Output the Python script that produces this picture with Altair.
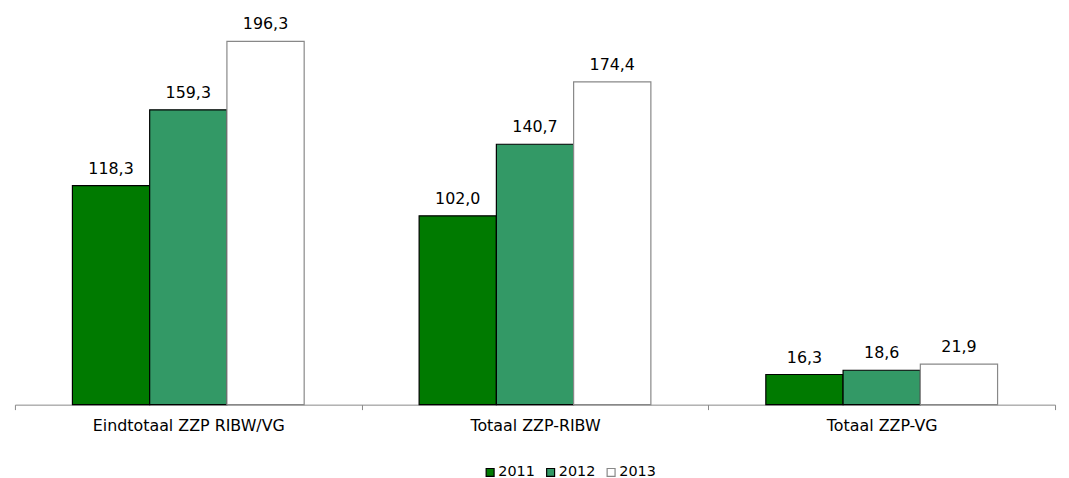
import altair as alt
import pandas as pd

categories = ["Eindtotaal ZZP RIBW/VG", "Totaal ZZP-RIBW", "Totaal ZZP-VG"]
years = ["2011", "2012", "2013"]
values_2011 = [118.3, 102.0, 16.3]
values_2012 = [159.3, 140.7, 18.6]
values_2013 = [196.3, 174.4, 21.9]

rows = []
for i, c in enumerate(categories):
    for y, vals in zip(years, [values_2011, values_2012, values_2013]):
        rows.append({"cat": c, "year": y, "value": vals[i]})
df = pd.DataFrame(rows)

FONT = "DejaVu Sans"
x = alt.X("cat:N", sort=categories, title=None,
          scale=alt.Scale(paddingInner=0, paddingOuter=0),
          axis=alt.Axis(labelAngle=0, labelFontSize=16, labelColor="#000", labelFont=FONT,
                        labelLimit=0,
                        tickBand="extent", tickSize=5, tickColor="#888", domainColor="#888",
                        labelPadding=8))
xo = alt.XOffset("year:N", sort=years, scale=alt.Scale(paddingInner=0, paddingOuter=0.744))
y = alt.Y("value:Q", scale=alt.Scale(domain=[0, 210], nice=False), axis=None)

base = alt.Chart(df).encode(x=x, xOffset=xo, y=y)

bars = base.mark_bar(strokeWidth=1.2).encode(
    color=alt.Color("year:N", sort=years, title=None,
                    scale=alt.Scale(domain=years, range=["#007A00", "#339966", "#FFFFFF"]),
                    legend=alt.Legend(orient="none", legendX=472, legendY=453, direction="horizontal",
                                      symbolType="square", symbolSize=64, labelFontSize=14.5,
                                      labelFont=FONT, labelColor="#000", columnPadding=8,
                                      labelOffset=1, symbolStrokeWidth=1.2)),
    stroke=alt.Stroke("year:N", sort=years, title=None,
                      scale=alt.Scale(domain=years, range=["#000000", "#000000", "#888888"])),
)

labels = base.transform_calculate(
    label="replace(format(datum.value, '.1f'), '.', ',')"
).mark_text(baseline="alphabetic", dy=-12, fontSize=16, font=FONT, color="#000").encode(text="label:N")

chart = (bars + labels).properties(
    width=1049, height=392, background="white",
    padding={"left": 6, "top": 6, "right": 5, "bottom": 5},
).configure_view(stroke=None)

chart.save("out.html", embed_options={"renderer": "svg", "actions": False})
